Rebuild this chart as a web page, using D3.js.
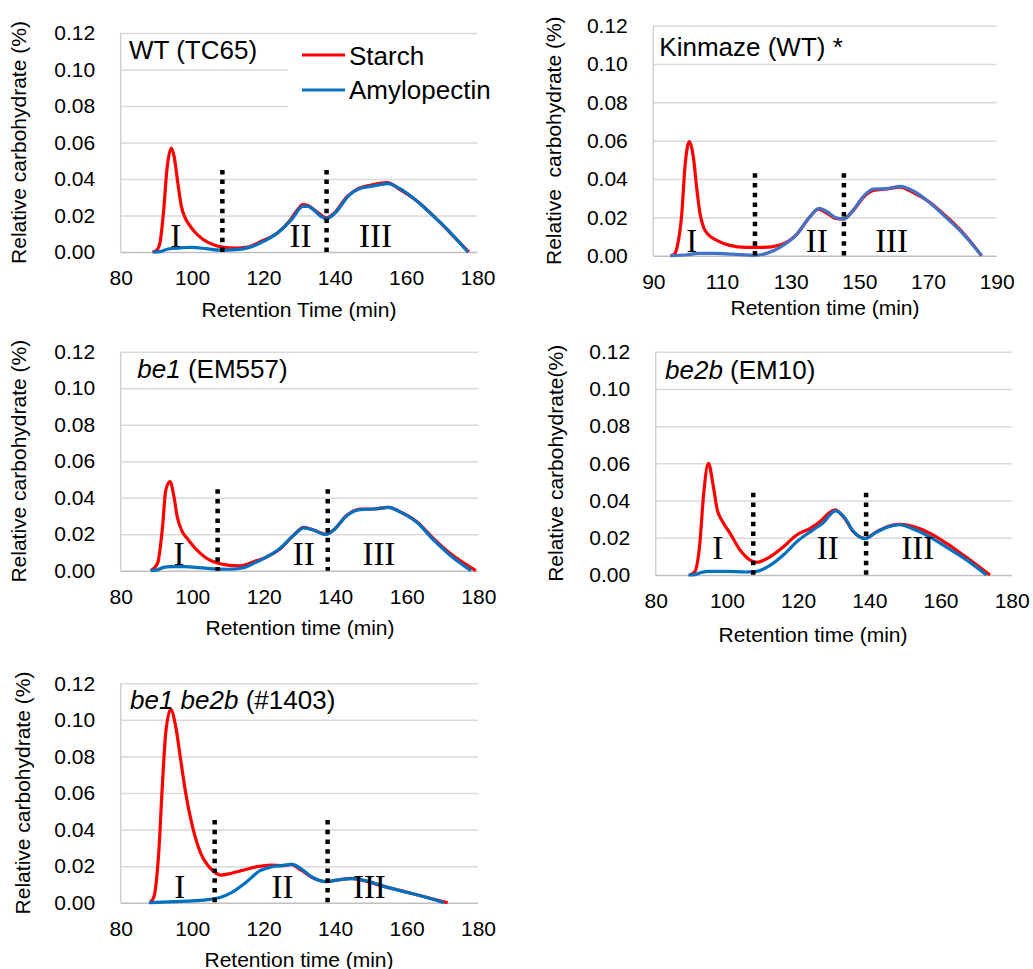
<!DOCTYPE html>
<html>
<head>
<meta charset="utf-8">
<script src="https://cdn.jsdelivr.net/npm/d3@7"></script>
<style>
  body { margin: 0; background: #fff; }
  svg { font-family: "Liberation Sans", Arial, sans-serif; }
</style>
</head>
<body>
<div id="chartContainer"></div>
<script>
// ---- data: [retention time (min), relative carbohydrate (%)] ----
var wtStarch = [[88.9,0],[90,0.0008],[91,0.005],[92,0.022],[93,0.046],[94.2,0.057],[95,0.052],[96,0.038],[97,0.025],[98,0.019],[99,0.0155],[100.5,0.0115],[103,0.007],[106,0.004],[108.5,0.0027],[112,0.0022],[115.5,0.0027],[119,0.0055],[124,0.0105],[127.6,0.0177],[129.5,0.023],[131,0.026],[132.5,0.0255],[134,0.0235],[136,0.0205],[137.7,0.0187],[139.8,0.0212],[143.5,0.0305],[146.8,0.035],[150,0.0366],[154.7,0.038],[158.4,0.034],[163.1,0.0278],[167.8,0.0195],[172.4,0.0104],[177.6,0]];
var wtAmylo = [[89,0],[91,0.0002],[93,0.0015],[95,0.002],[100,0.0025],[104,0.0018],[108,0.001],[112,0.0013],[115,0.002],[119,0.0048],[124,0.0105],[128,0.018],[131,0.025],[132.5,0.025],[134,0.0232],[136,0.0197],[137.7,0.0183],[140,0.0212],[144,0.031],[147,0.0348],[151,0.0362],[155,0.0375],[158,0.035],[163,0.028],[168,0.019],[172,0.0115],[177.3,0]];

var kinStarch = [[95,0],[96,0.0005],[97,0.005],[98.3,0.022],[99.2,0.046],[100.5,0.0595],[101.7,0.051],[102.6,0.036],[103.6,0.022],[104.6,0.015],[106,0.011],[108.5,0.008],[112,0.0055],[117,0.0043],[122,0.0043],[126.9,0.0056],[131.7,0.011],[135.6,0.0203],[138.1,0.0243],[140.5,0.0222],[143,0.0195],[145.3,0.0192],[148.3,0.0238],[151.2,0.0305],[154.1,0.034],[158,0.0348],[161.8,0.0358],[165.7,0.033],[170.6,0.0278],[175.4,0.0203],[180.3,0.0117],[185.6,0]];
var kinAmylo = [[95,0],[100,0.0005],[103,0.0012],[108,0.0012],[113,0.0008],[119.5,0.0002],[123,0.0012],[127,0.0045],[131.7,0.011],[135.6,0.0203],[138.3,0.0247],[140.7,0.0228],[143.2,0.0198],[145.5,0.0192],[148.3,0.024],[151.2,0.031],[154.1,0.0348],[158,0.035],[162,0.0362],[166,0.0335],[170.6,0.0275],[175.4,0.0197],[180.3,0.0113],[185.6,0]];

var be1Starch = [[88.4,0],[90.3,0.004],[91.7,0.024],[92.6,0.044],[93.8,0.0488],[94.9,0.0405],[95.8,0.0296],[97.2,0.0214],[98.6,0.0177],[100.5,0.013],[102.3,0.0095],[104,0.0068],[106,0.0049],[109.8,0.0031],[113.5,0.0027],[117.2,0.0049],[121,0.0077],[124.7,0.0122],[128.4,0.0195],[131.2,0.0237],[134,0.0223],[137.2,0.02],[139.5,0.0223],[143.3,0.0305],[147,0.0338],[150.7,0.0338],[154.9,0.0347],[158.1,0.0323],[162.8,0.0268],[167.4,0.0177],[172.1,0.0095],[179.3,0]];
var be1Amylo = [[88.4,0],[90,0.0003],[92,0.0018],[94,0.0022],[98,0.0022],[102,0.0017],[106,0.001],[110,0.0008],[114,0.0015],[117.2,0.004],[121,0.0077],[124.7,0.0125],[128.4,0.0195],[131.2,0.0235],[134,0.0222],[137.2,0.0198],[139.5,0.0222],[143.3,0.0303],[147,0.0335],[150.7,0.0338],[154.9,0.0347],[158.1,0.0322],[162.8,0.0265],[167.4,0.017],[172.1,0.0085],[178,0]];

var be2bStarch = [[89.6,0],[91,0.0018],[92.4,0.017],[93.4,0.042],[94.8,0.06],[96.2,0.0475],[97.3,0.035],[98.5,0.0296],[100.9,0.0224],[103.7,0.0134],[106.5,0.008],[108.4,0.0068],[112.1,0.0098],[115.9,0.0152],[119.6,0.0215],[123.4,0.025],[126.2,0.0287],[128.5,0.033],[130.4,0.035],[132.7,0.0313],[135.5,0.0233],[138.8,0.0197],[142.1,0.0233],[145.8,0.0265],[148.6,0.0272],[152.4,0.026],[157.1,0.0224],[161.7,0.017],[166.4,0.0107],[173.9,0]];
var be2bAmylo = [[89.2,0],[91,0.0002],[93,0.0015],[95,0.002],[100,0.002],[105,0.0016],[108,0.0018],[112,0.005],[116,0.011],[120,0.0185],[124,0.024],[127,0.028],[130.5,0.0345],[133,0.031],[135.5,0.0235],[138.8,0.0195],[142,0.023],[145.5,0.026],[148.5,0.027],[152,0.025],[157,0.0205],[162,0.0145],[167,0.0085],[172.9,0]];

var dblStarch = [[88.2,0],[89.3,0.0033],[90.7,0.029],[91.6,0.062],[92.6,0.0927],[94,0.1058],[95.4,0.0963],[96.8,0.078],[98.2,0.0598],[100.1,0.0416],[102.4,0.027],[104.3,0.0206],[106.1,0.017],[108,0.0151],[110.8,0.016],[114.5,0.0179],[118.2,0.0197],[122,0.0206],[125.7,0.0202],[127.6,0.021],[130.4,0.0179],[134.1,0.0133],[137.4,0.0115],[140.7,0.0124],[144.4,0.0133],[149.1,0.0115],[153.8,0.0088],[158.4,0.0066],[163.1,0.0042],[171.5,0]];
var dblAmylo = [[87.9,0],[95,0.0006],[100,0.001],[105,0.0018],[108,0.003],[111,0.0055],[115,0.011],[119,0.0175],[122,0.0195],[125,0.0203],[128,0.021],[130.5,0.0185],[134,0.0135],[137.4,0.0115],[141,0.0125],[145,0.0132],[149,0.0118],[154,0.0088],[159,0.0062],[164,0.0038],[170.5,0]];

// y ticks shared by all panels
var yTicks = [0, 0.02, 0.04, 0.06, 0.08, 0.10, 0.12];
var xTicks80 = [80, 100, 120, 140, 160, 180];
var xTicks90 = [90, 110, 130, 150, 170, 190];

// fraction boundaries (min) and top of the dotted markers
var wtCuts = [108.5, 137.7], kinCuts = [119.6, 145.5], be1Cuts = [107.1, 137.9],
    be2bCuts = [107.4, 139.1], dblCuts = [106.3, 137.9];
var cutTops = [0.045, 0.043, 0.0446, 0.0442, 0.0452];

// fraction label positions [time, value]
var fracNames = ["I", "II", "III"];
var wtFrac = [95.4, 130.4, 151.4], kinFrac = [101.2, 137.6, 159.4], be1Frac = [96.3, 131.2, 152.2],
    be2bFrac = [97.4, 128.3, 153.6], dblFrac = [96.5, 125.3, 149.6];
var fracY = [0.0026, 0.0021, 0.0031, 0.0084, 0.0024];

var seriesNames = ["Starch", "Amylopectin"];

// ---- layout ----
var panels = [
  { l: 120.7, t: 33, r: 477.5, b: 252, xd: [80, 180], xt: xTicks80,
    starch: wtStarch, amylo: wtAmylo, cuts: wtCuts, frac: wtFrac, blue: "#0070C0",
    title: [["WT (TC65)", false]], tx: 129, ty: 59.3,
    ylab: "Relative carbohydrate (%)", ylx: 26, xlab: "Retention Time (min)", xlx: 299, xly: 316.7, legend: true },
  { l: 653.3, t: 25.7, r: 996.7, b: 255.7, xd: [90, 190], xt: xTicks90,
    starch: kinStarch, amylo: kinAmylo, cuts: kinCuts, frac: kinFrac, blue: "#4472C4",
    title: [["Kinmaze (WT) *", false]], tx: 659.3, ty: 56,
    ylab: "Relative\u00a0\u00a0carbohydrate (%)", ylx: 561, xlab: "Retention time (min)", xlx: 825, xly: 315 },
  { l: 120.7, t: 351.7, r: 478.3, b: 570.7, xd: [80, 180], xt: xTicks80,
    starch: be1Starch, amylo: be1Amylo, cuts: be1Cuts, frac: be1Frac, blue: "#0070C0",
    title: [["be1", true], [" (EM557)", false]], tx: 137.3, ty: 378.3,
    ylab: "Relative carbohydrate (%)", ylx: 26, xlab: "Retention time (min)", xlx: 300, xly: 635 },
  { l: 655.7, t: 351.7, r: 1011.7, b: 575, xd: [80, 180], xt: xTicks80,
    starch: be2bStarch, amylo: be2bAmylo, cuts: be2bCuts, frac: be2bFrac, blue: "#0070C0",
    title: [["be2b", true], [" (EM10)", false]], tx: 665, ty: 379.3,
    ylab: "Relative carbohydrate(%)", ylx: 563, xlab: "Retention time (min)", xlx: 813, xly: 641.7 },
  { l: 120.7, t: 683.3, r: 478, b: 902.7, xd: [80, 180], xt: xTicks80,
    starch: dblStarch, amylo: dblAmylo, cuts: dblCuts, frac: dblFrac, blue: "#0070C0",
    title: [["be1 be2b", true], [" (#1403)", false]], tx: 130, ty: 709.3,
    ylab: "Relative carbohydrate (%)", ylx: 30, xlab: "Retention time (min)", xlx: 299, xly: 966.7 }
];

var svg = d3.select("#chartContainer").append("svg")
    .attr("width", 1033)
    .attr("height", 969);

panels.forEach(function (p, i) {
    var w = p.r - p.l, h = p.b - p.t;
    var x = d3.scaleLinear().domain(p.xd).range([p.l, p.r]);
    var y = d3.scaleLinear().domain([0, 0.12]).range([p.b, p.t]);

    // gridlines + y tick labels
    var yAxis = svg.append("g")
        .attr("transform", "translate(" + p.l + ",0)")
        .call(d3.axisLeft(y).tickValues(yTicks).tickFormat(d3.format(".2f")).tickSize(-w).tickPadding(25.5));
    yAxis.select(".domain").remove();
    yAxis.selectAll(".tick line").attr("stroke", "#d9d9d9").attr("stroke-width", 1.5);
    yAxis.selectAll(".tick").filter(function (d) { return d === 0; }).select("line").attr("stroke", "#bfbfbf");
    yAxis.selectAll(".tick text").attr("font-size", "21px").attr("fill", "#000")
        .attr("font-family", "Liberation Sans, Arial, sans-serif");

    // left border of the plot area
    svg.append("line")
        .attr("x1", p.l).attr("x2", p.l).attr("y1", p.t).attr("y2", p.b)
        .attr("stroke", "#d0d0d0").attr("stroke-width", 1.5);

    // x tick labels
    var xAxis = svg.append("g")
        .attr("transform", "translate(0," + p.b + ")")
        .call(d3.axisBottom(x).tickValues(p.xt).tickSize(0).tickPadding(18));
    xAxis.select(".domain").remove();
    xAxis.selectAll(".tick text").attr("font-size", "21px").attr("fill", "#000")
        .attr("font-family", "Liberation Sans, Arial, sans-serif");

    // legend (first panel only) with white box over the gridlines
    if (p.legend) {
        svg.append("rect").attr("x", 288).attr("y", 38).attr("width", p.r - 288 + 2).attr("height", 71).attr("fill", "#fff");
        var lg = [{ name: seriesNames[0], c: "#FF0000", yy: 55, ty: 65 }, { name: seriesNames[1], c: p.blue, yy: 90, ty: 99.3 }];
        lg.forEach(function (d) {
            svg.append("line").attr("x1", 302).attr("x2", 345).attr("y1", d.yy).attr("y2", d.yy)
                .attr("stroke", d.c).attr("stroke-width", 3);
            svg.append("text").attr("x", 349).attr("y", d.ty).attr("font-size", "26px").text(d.name);
        });
    }

    // curves
    var line = d3.line()
        .x(function (d) { return x(d[0]); })
        .y(function (d) { return y(d[1]); })
        .curve(d3.curveMonotoneX);

    svg.append("path").datum(p.starch)
        .attr("fill", "none").attr("stroke", "#FF0000").attr("stroke-width", 3.2)
        .attr("stroke-linejoin", "round").attr("d", line);
    svg.append("path").datum(p.amylo)
        .attr("fill", "none").attr("stroke", p.blue).attr("stroke-width", 3.2)
        .attr("stroke-linejoin", "round").attr("d", line);

    // fraction boundaries
    p.cuts.forEach(function (c) {
        svg.append("line")
            .attr("x1", x(c)).attr("x2", x(c))
            .attr("y1", y(cutTops[i])).attr("y2", y(0))
            .attr("stroke", "#000").attr("stroke-width", 4.5)
            .attr("stroke-dasharray", "4.5,5.2");
    });

    // fraction labels
    p.frac.forEach(function (f, k) {
        svg.append("text")
            .attr("x", x(f)).attr("y", y(fracY[i]))
            .attr("text-anchor", "middle")
            .attr("font-family", "Liberation Serif, Times New Roman, serif")
            .attr("font-size", "33px")
            .text(fracNames[k]);
    });

    // panel title
    var tt = svg.append("text").attr("x", p.tx).attr("y", p.ty).attr("font-size", "26px");
    p.title.forEach(function (s) {
        tt.append("tspan").attr("font-style", s[1] ? "italic" : "normal").text(s[0]);
    });

    // axis titles
    svg.append("text")
        .attr("transform", "translate(" + p.ylx + "," + ((p.t + p.b) / 2) + ") rotate(-90)")
        .attr("text-anchor", "middle").attr("font-size", "21px")
        .text(p.ylab);
    svg.append("text")
        .attr("x", p.xlx).attr("y", p.xly)
        .attr("text-anchor", "middle").attr("font-size", "21px")
        .text(p.xlab);
});
</script>
</body>
</html>
